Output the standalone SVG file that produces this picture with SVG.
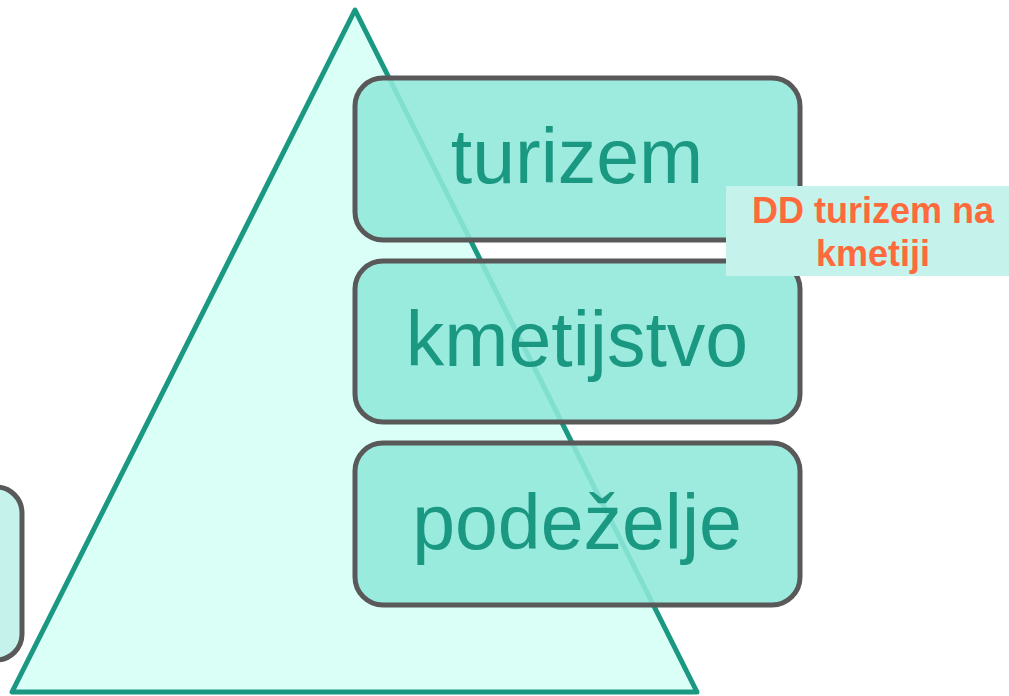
<svg xmlns="http://www.w3.org/2000/svg" width="1009" height="696" viewBox="0 0 1009 696">
<style>
.box{fill:#8fe8db;fill-opacity:0.88;stroke:#595959;stroke-width:5}
.big{font-family:"Liberation Sans",Arial,sans-serif;font-size:77px;fill:#1a9882;text-anchor:middle}
.lbl{font-family:"Liberation Sans",Arial,sans-serif;font-size:36px;font-weight:bold;fill:#ff6a3d;text-anchor:middle}
</style>
<rect width="1009" height="696" fill="#ffffff"/>
<g id="leftbox"><rect x="-40" y="487" width="62" height="173" rx="26" fill="#c5f3ec" stroke="#595959" stroke-width="5"/></g>
<g id="pyramid"><polygon points="355,10 12,692 697,692" fill="#dafff6" stroke="#1a9882" stroke-width="5" stroke-linejoin="round"/></g>
<g id="turizem"><rect class="box" x="355" y="78" width="445" height="162" rx="28"/><text class="big" x="577" y="183">turizem</text></g>
<g id="kmetijstvo"><rect class="box" x="355" y="261" width="445" height="161" rx="28"/><text class="big" x="577" y="366">kmetijstvo</text></g>
<g id="podezelje"><rect class="box" x="355" y="443" width="445" height="162" rx="28"/><text class="big" x="577" y="549">podeželje</text></g>
<g id="label"><rect x="726" y="186" width="283" height="90" fill="#c5f3ec"/><text class="lbl" x="873" y="223">DD turizem na</text><text class="lbl" x="873" y="266">kmetiji</text></g>
<g id="connectors"></g>
</svg>
